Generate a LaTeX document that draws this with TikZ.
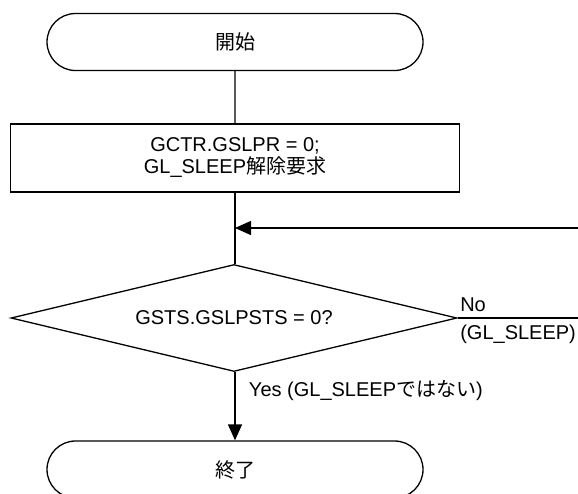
\documentclass[tikz,border=0pt]{standalone}
\usepackage{fontspec}
\setmainfont{Liberation Sans}
\newfontfamily\jp{Noto Sans CJK JP}
\usepackage{tikz}
\usetikzlibrary{shapes.geometric, shapes.misc, arrows.meta, positioning}

\tikzset{
    flowline/.style={line width=1.3pt, draw=black},
    terminal/.style={rounded rectangle, draw, line width=1.3pt, minimum width=376pt, minimum height=57pt, inner sep=0pt},
    process/.style={rectangle, draw, line width=1.5pt, minimum width=449pt, minimum height=68pt, align=center, inner sep=0pt},
    decision/.style={diamond, draw, line width=1.3pt, aspect=4.2, minimum width=446pt, minimum height=107pt, inner sep=0pt},
    flowarrow/.style={flowline, -{Triangle[length=16pt, width=14pt]}}
}

\begin{document}
\begin{tikzpicture}[x=1pt, y=-1pt, font=\fontsize{20}{22}\selectfont]
    % Frame
    \useasboundingbox (0,0) rectangle (578,493);
    \clip (0,0) rectangle (578,493);

    % Nodes
    \node[terminal] (start) at (235,42) {\jp 開始};
    \node[process] (setreq) at (235,158) {GCTR.GSLPR = 0;\\GL\_SLEEP{\jp 解除要求}};
    \node[decision] (check) at (234,318) {GSTS.GSLPSTS = 0?};
    \node[terminal] (stop) at (235,469.5) {\jp 終了};

    % Loop ends at the right edge
    \coordinate (loopin) at (578,228);
    \coordinate (loopout) at (578,318);

    % Connectors
    \draw[flowline] (start) -- (setreq);
    \draw[flowline] (setreq) -- (check.north -| setreq.south);
    \draw[flowarrow] (loopin) -- (loopin -| setreq.south);
    \draw[flowline] (check.east) -- (loopout)
        node[pos=0, anchor=south west, inner sep=2pt, yshift=4pt] {No}
        node[pos=0, anchor=north west, inner sep=2pt, yshift=-4pt] {(GL\_SLEEP)};
    \draw[flowarrow] (check.south -| stop.north) -- (stop.north)
        node[pos=0.27, anchor=west, xshift=10pt] {Yes (GL\_SLEEP{\jp ではない})};
\end{tikzpicture}
\end{document}
